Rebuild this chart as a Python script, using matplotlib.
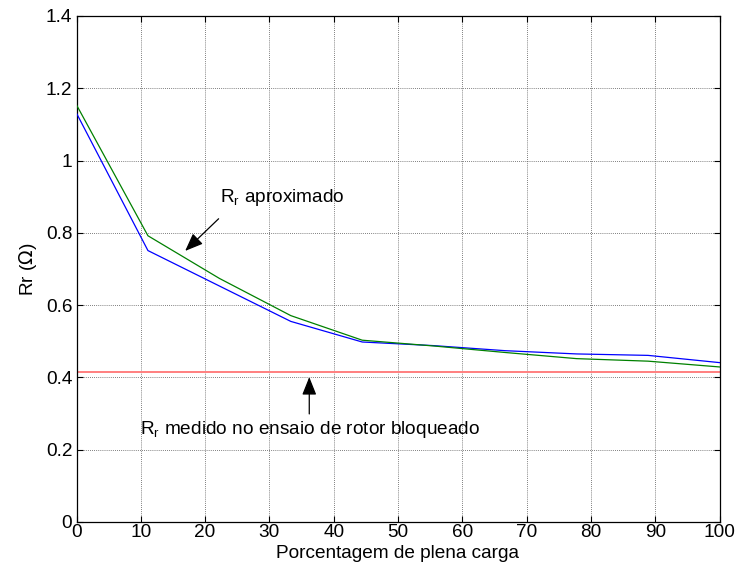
import matplotlib
matplotlib.use("Agg")
import matplotlib.pyplot as plt
from matplotlib.ticker import FuncFormatter

plt.rcParams['font.family'] = ['Liberation Sans', 'DejaVu Sans']
FS = 13.7
plt.rcParams['font.size'] = FS

# Data
carga = [0, 11.11, 22.22, 33.33, 44.44, 55.56, 66.67, 77.78, 88.89, 100]
rr_blue = [1.131, 0.751, 0.653, 0.555, 0.498, 0.488, 0.474, 0.465, 0.461, 0.441]
rr_green = [1.154, 0.792, 0.674, 0.571, 0.503, 0.487, 0.469, 0.452, 0.445, 0.429]
rr_medido = 0.416

xticks = [0, 10, 20, 30, 40, 50, 60, 70, 80, 90, 100]
yticks = [0, 0.2, 0.4, 0.6, 0.8, 1.0, 1.2, 1.4]

fig = plt.figure(figsize=(7.37, 5.77), dpi=100)
ax = fig.add_axes([76.5/737, 1 - 522/577, (719.5 - 76.5)/737, (522 - 16)/577])

ax.axhline(rr_medido, color='#ff7f7f', lw=1.4, zorder=2)
ax.plot(carga, rr_blue, color='#0000ff', lw=0.9, zorder=3)
ax.plot(carga, rr_green, color='#008000', lw=0.9, zorder=3)

ax.set_xlim(0, 100)
ax.set_ylim(0, 1.4)
ax.set_xticks(xticks)
ax.set_yticks(yticks)
ax.yaxis.set_major_formatter(FuncFormatter(lambda v, p: f"{v:g}"))
ax.grid(True, color='#555555', linestyle=(0, (1, 1.5)), lw=0.6, zorder=1)
ax.tick_params(direction='in', length=4, top=True, right=True, width=0.8, labelsize=FS)
ax.tick_params(axis='x', pad=1.5)
ax.tick_params(axis='y', pad=3)
for s in ax.spines.values():
    s.set_linewidth(0.9)

ax.set_xlabel('Porcentagem de plena carga', fontsize=FS, labelpad=2.5)
ax.set_ylabel(r'Rr ($\Omega$)', fontsize=FS, labelpad=5)

arrowprops = dict(arrowstyle='-|>,head_length=0.8,head_width=0.32', color='black', lw=0.9,
                  shrinkA=0, shrinkB=0)
ax.annotate('', xy=(16.9, 0.750), xytext=(22.1, 0.839), arrowprops=arrowprops)
ax.text(22.3, 0.898, r'R$_\mathregular{r}$ aproximado', fontsize=FS, va='center', ha='left')

ax.annotate('', xy=(36.2, 0.401), xytext=(36.2, 0.299), arrowprops=arrowprops)
ax.text(9.9, 0.257, r'R$_\mathregular{r}$ medido no ensaio de rotor bloqueado', fontsize=FS,
        va='center', ha='left')

fig.savefig('out.png', dpi=100)
